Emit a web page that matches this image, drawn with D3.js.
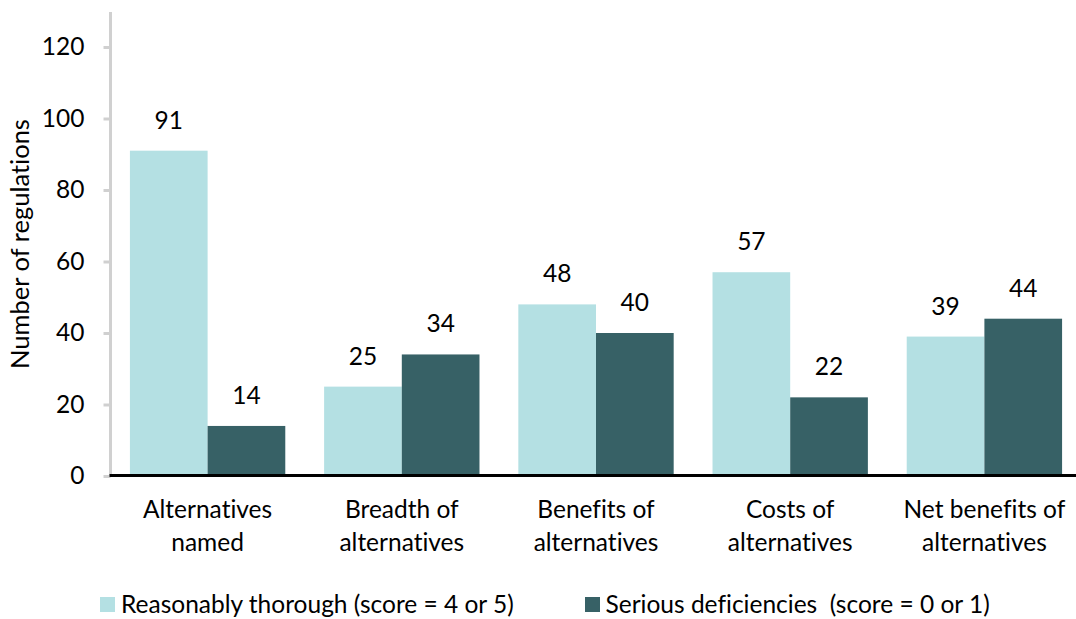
<!DOCTYPE html>
<html>
<head>
<meta charset="utf-8">
<script src="https://cdn.jsdelivr.net/npm/d3@7"></script>
<style>
  body { margin: 0; background: #fff; }
  svg { display: block; font-family: Lato, "Open Sans", sans-serif; font-variant-ligatures: none; }
</style>
</head>
<body>
<svg id="chart" width="1076" height="619"></svg>
<script>
var categories = [
  ["Alternatives", "named"],
  ["Breadth of", "alternatives"],
  ["Benefits of", "alternatives"],
  ["Costs of", "alternatives"],
  ["Net benefits of", "alternatives"]
];
var thorough = [91, 25, 48, 57, 39];
var deficient = [14, 34, 40, 22, 44];
var seriesNames = ["Reasonably thorough (score = 4 or 5)", "Serious deficiencies\u00a0 (score = 0 or 1)"];
var yTicks = [0, 20, 40, 60, 80, 100, 120];

var colors = ["#b4e0e3", "#376166"];
var fs = 24.5;

var svg = d3.select("#chart");
var margin = { left: 110.5, top: 12, bottom: 476 };

var x = d3.scaleBand()
  .domain(d3.range(categories.length))
  .range([margin.left, margin.left + 5 * 194.2])
  .paddingInner(0.2)
  .paddingOuter(0.1);

var xs = d3.scaleBand()
  .domain([0, 1])
  .range([0, x.bandwidth()]);

var y = d3.scaleLinear()
  .domain([0, 130])
  .range([margin.bottom, margin.bottom - 130 * 3.575]);

// y axis
var yAxis = d3.axisLeft(y).tickValues(yTicks).tickSize(7).tickPadding(19);
var gy = svg.append("g")
  .attr("transform", "translate(" + margin.left + ",0)")
  .call(yAxis);
gy.select(".domain")
  .attr("d", "M0," + margin.top + "V" + margin.bottom)
  .attr("stroke", "#d0d0d0").attr("stroke-width", 3);
gy.selectAll(".tick line").attr("stroke", "#d0d0d0").attr("stroke-width", 3);
gy.selectAll(".tick text")
  .attr("font-size", fs).attr("fill", "#000")
  .attr("font-family", "Lato, sans-serif");

svg.append("text")
  .attr("transform", "translate(29," + ((margin.top + margin.bottom) / 2) + ") rotate(-90)")
  .attr("text-anchor", "middle")
  .attr("font-size", 25.5)
  .text("Number of regulations");

// bars
var groups = svg.selectAll("g.grp")
  .data(categories)
  .enter().append("g")
    .attr("class", "grp")
    .attr("transform", function(d, i) { return "translate(" + x(i) + ",0)"; });

groups.each(function(d, i) {
  var g = d3.select(this);
  var vals = [thorough[i], deficient[i]];
  g.selectAll("rect")
    .data(vals)
    .enter().append("rect")
      .attr("x", function(v, j) { return xs(j); })
      .attr("y", function(v) { return y(v); })
      .attr("width", xs.bandwidth())
      .attr("height", function(v) { return y(0) - y(v); })
      .attr("fill", function(v, j) { return colors[j]; });
  g.selectAll("text.val")
    .data(vals)
    .enter().append("text")
      .attr("class", "val")
      .attr("x", function(v, j) { return xs(j) + xs.bandwidth() / 2; })
      .attr("y", function(v) { return y(v) - 22; })
      .attr("text-anchor", "middle")
      .attr("font-size", fs)
      .text(function(v) { return v; });
  g.append("text")
    .attr("text-anchor", "middle")
    .attr("font-size", fs)
    .selectAll("tspan")
    .data(d)
    .enter().append("tspan")
      .attr("x", x.bandwidth() / 2)
      .attr("y", function(t, k) { return 518 + k * 33; })
      .text(function(t) { return t; });
});

// baseline
svg.append("line")
  .attr("x1", margin.left - 1).attr("x2", 1076)
  .attr("y1", y(0) - 0.5).attr("y2", y(0) - 0.5)
  .attr("stroke", "#000").attr("stroke-width", 3);

// legend
var legendX = [100, 585];
var legend = svg.selectAll("g.leg")
  .data(seriesNames)
  .enter().append("g")
    .attr("class", "leg")
    .attr("transform", function(d, i) { return "translate(" + legendX[i] + ",597)"; });
legend.append("rect")
  .attr("width", 15).attr("height", 15)
  .attr("fill", function(d, i) { return colors[i]; });
legend.append("text")
  .attr("x", function(d, i) { return i === 0 ? 21 : 20.5; })
  .attr("y", 16)
  .attr("font-size", fs)
  .text(function(d) { return d; });
</script>
</body>
</html>
